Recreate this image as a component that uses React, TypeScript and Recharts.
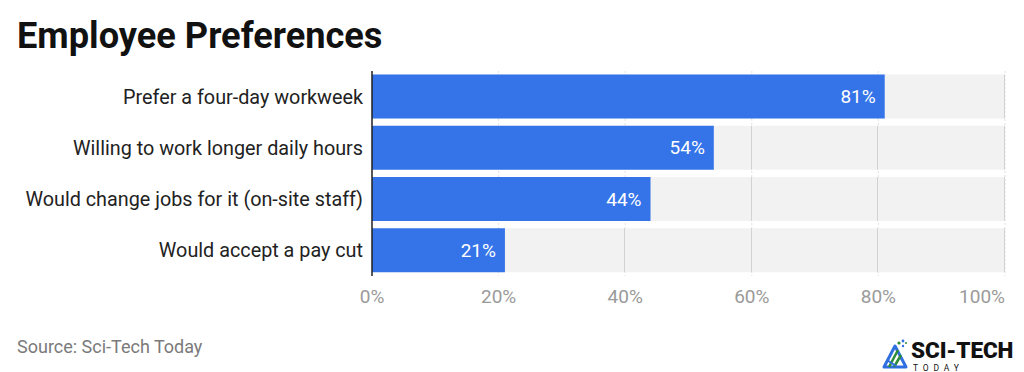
import React from "react";
import {
  BarChart,
  Bar,
  XAxis,
  YAxis,
  CartesianGrid,
  LabelList,
} from "recharts";

// Survey categories and their shares (percent of employees)
const categories = [
  "Prefer a four-day workweek",
  "Willing to work longer daily hours",
  "Would change jobs for it (on-site staff)",
  "Would accept a pay cut",
];
const shares = [81, 54, 44, 21];
const xTicks = [0, 20, 40, 60, 80, 100];

const rows = categories.map((name, i) => ({ name, value: shares[i] }));

const FONT = "Roboto, 'Noto Sans', Arial, sans-serif";
const BLUE = "#3574e8";
const TRACK = "#f2f2f2";
const GRID_ON_TRACK = "#d2d2d2";

// Gray track behind each bar, with the vertical guide lines drawn on top of it
const TrackBackground = (props: any) => {
  const { x, y, width, height } = props;
  const max = xTicks[xTicks.length - 1];
  return (
    <g>
      <rect x={x} y={y} width={width} height={height} fill={TRACK} />
      {xTicks.slice(1).map((t) => {
        const lx = Math.round(x + (width * t) / max) - 0.5;
        return (
          <line
            key={t}
            x1={lx}
            x2={lx}
            y1={y}
            y2={y + height}
            stroke={GRID_ON_TRACK}
            strokeWidth={1}
          />
        );
      })}
    </g>
  );
};

// Percent tick labels; the last one is kept inside the plot edge
const PercentTick = (props: any) => {
  const { x, y, payload, index } = props;
  const last = index === xTicks.length - 1;
  return (
    <text
      x={x}
      y={y + 25}
      textAnchor={last ? "end" : "middle"}
      fill="#9a9a9a"
      fontSize={19}
      fontFamily={FONT}
    >
      {payload.value}%
    </text>
  );
};

const Logo = () => (
  <g>
    {/* mark */}
    <polygon points="884,367 895,346 906,367" fill="none" stroke="#2f6fe0" strokeWidth={3} strokeLinejoin="round" />
    <line x1="889" y1="367" x2="898" y2="350" stroke="#2e8b3a" strokeWidth={2.5} />
    <line x1="894" y1="367" x2="901" y2="355" stroke="#2e8b3a" strokeWidth={2.5} />
    <line x1="887" y1="360" x2="896" y2="366" stroke="#2f6fe0" strokeWidth={2} />
    <circle cx="899" cy="343" r="1.6" fill="#2e8b3a" />
    <circle cx="903" cy="341" r="1.4" fill="#2f6fe0" />
    <circle cx="903" cy="346" r="1.2" fill="#2f6fe0" />
    <circle cx="906" cy="343" r="1" fill="#2e8b3a" />
    <text x={911} y={357.5} fontFamily={FONT} fontWeight={900} fontSize={22.5} fill="#111" letterSpacing={-0.1}>
      SCI-TECH
    </text>
    <text x={913} y={371} fontFamily={FONT} fontSize={8.5} fill="#111" letterSpacing={4.8}>
      TODAY
    </text>
  </g>
);

export default function App() {
  return (
    <div style={{ position: "absolute", left: 0, top: 0, width: 1024, height: 372, background: "#fff" }}>
      <BarChart
        width={1024}
        height={372}
        data={rows}
        layout="vertical"
        margin={{ top: 71, right: 19, bottom: 66, left: 0 }}
        barCategoryGap={3.5}
      >
        <CartesianGrid
          horizontal={false}
          vertical
          stroke="#e2e2e2"
          strokeDasharray="2 2"
        />
        <XAxis
          type="number"
          domain={[0, 100]}
          ticks={xTicks}
          axisLine={false}
          tickLine={false}
          tickSize={0}
          height={30}
          tick={<PercentTick />}
          interval={0}
        />
        <YAxis
          type="category"
          dataKey="name"
          width={372}
          axisLine={{ stroke: "#222", strokeWidth: 1.5 }}
          tickLine={false}
          tickSize={0}
          tickMargin={9}
          tick={{ fill: "#222", fontSize: 19.8, fontFamily: FONT }}
          interval={0}
        />
        <Bar
          dataKey="value"
          fill={BLUE}
          isAnimationActive={false}
          background={(p: any) => <TrackBackground key={`bg-${p.index}`} {...p} />}
        >
          <LabelList
            dataKey="value"
            position="insideRight"
            offset={9}
            fill="#ffffff"
            fontSize={19}
            fontFamily={FONT}
            formatter={(v: any) => `${v}%`}
          />
        </Bar>
      </BarChart>
      <svg
        width={1024}
        height={372}
        style={{ position: "absolute", left: 0, top: 0, pointerEvents: "none" }}
      >
        <text x={17} y={48} fontFamily={FONT} fontWeight={700} fontSize={36.2} fill="#111">
          Employee Preferences
        </text>
        <text x={17} y={353} fontFamily={FONT} fontSize={18} fill="#7a7a7a">
          Source: Sci-Tech Today
        </text>
        <Logo />
      </svg>
    </div>
  );
}
